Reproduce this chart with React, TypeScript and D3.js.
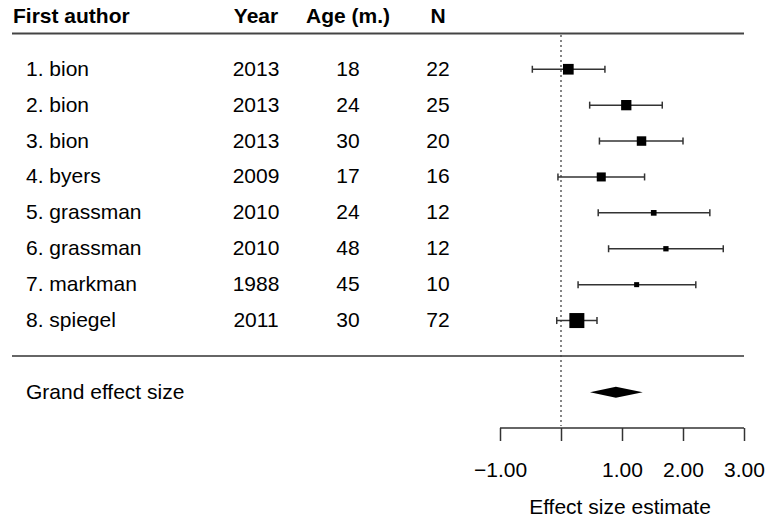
import React, { useEffect, useRef } from "react"
import * as d3 from "d3"

const authors = ["1. bion", "2. bion", "3. bion", "4. byers", "5. grassman", "6. grassman", "7. markman", "8. spiegel"]
const years = [2013, 2013, 2013, 2009, 2010, 2010, 1988, 2011]
const ages = [18, 24, 30, 17, 24, 48, 45, 30]
const ns = [22, 25, 20, 16, 12, 12, 10, 72]
const estimates = [0.12, 1.07, 1.32, 0.66, 1.52, 1.72, 1.24, 0.26]
const lower = [-0.47, 0.47, 0.63, -0.05, 0.61, 0.78, 0.28, -0.07]
const upper = [0.72, 1.66, 2.0, 1.37, 2.44, 2.66, 2.21, 0.59]
const weights = [16.3, 15.1, 12.8, 11.6, 4.6, 4.0, 3.6, 32.1]
// lower, estimate, upper
const grandEffect = [0.475, 0.9, 1.34]
const tickValues = [-1, 0, 1, 2, 3]
const headers = ["First author", "Year", "Age (m.)", "N"]

const FONT = "'Liberation Sans', Arial, Helvetica, sans-serif"
const FS = "21px"

export default function App() {
    const ref = useRef<SVGSVGElement>(null)

    useEffect(() => {
        const svg = d3.select(ref.current)
        svg.selectAll("*").remove()

        const x = d3.scaleLinear().domain([-1, 3]).range([500, 744])
        const y = d3.scaleBand<number>()
            .domain(d3.range(authors.length))
            .range([51.3, 338.5])
        const size = d3.scaleSqrt().domain([0, d3.max(weights)!]).range([0, 15])
        const rowY = (i: number) => y(i)! + y.bandwidth() / 2

        const colX = [26, 256, 348, 438]

        // header
        svg.append("g")
            .selectAll("text")
            .data(headers)
            .enter()
            .append("text")
            .attr("x", (d, i) => (i === 0 ? 13 : colX[i]))
            .attr("y", 23)
            .attr("text-anchor", (d, i) => (i === 0 ? "start" : "middle"))
            .style("font-family", FONT)
            .style("font-size", FS)
            .style("font-weight", "bold")
            .text(d => d)

        svg.append("line")
            .attr("x1", 12).attr("x2", 744)
            .attr("y1", 33.5).attr("y2", 33.5)
            .attr("stroke", "#444").attr("stroke-width", 2)
        svg.append("line")
            .attr("x1", 12).attr("x2", 744)
            .attr("y1", 356).attr("y2", 356)
            .attr("stroke", "#333").attr("stroke-width", 1.5)

        // zero line
        svg.append("line")
            .attr("x1", x(0)).attr("x2", x(0))
            .attr("y1", 35).attr("y2", 426)
            .attr("stroke", "#444").attr("stroke-width", 1.3)
            .attr("stroke-dasharray", "2,3")

        // table columns
        const cols = [authors, years, ages, ns]
        cols.forEach((col, c) => {
            svg.append("g")
                .selectAll("text")
                .data(col)
                .enter()
                .append("text")
                .attr("x", colX[c])
                .attr("y", (d, i) => rowY(i) + 6.5)
                .attr("text-anchor", c === 0 ? "start" : "middle")
                .style("font-family", FONT)
                .style("font-size", FS)
                .text(d => String(d))
        })

        // confidence intervals
        const rows = svg.append("g")
            .selectAll("g")
            .data(estimates)
            .enter()
            .append("g")
            .attr("transform", (d, i) => "translate(0," + rowY(i) + ")")
        rows.append("line")
            .attr("x1", (d, i) => x(lower[i]))
            .attr("x2", (d, i) => x(upper[i]))
            .attr("stroke", "#333").attr("stroke-width", 1.5)
        rows.append("line")
            .attr("x1", (d, i) => x(lower[i])).attr("x2", (d, i) => x(lower[i]))
            .attr("y1", -3.5).attr("y2", 3.5)
            .attr("stroke", "#333").attr("stroke-width", 1.5)
        rows.append("line")
            .attr("x1", (d, i) => x(upper[i])).attr("x2", (d, i) => x(upper[i]))
            .attr("y1", -3.5).attr("y2", 3.5)
            .attr("stroke", "#333").attr("stroke-width", 1.5)
        rows.append("rect")
            .attr("x", (d, i) => x(d) - size(weights[i]) / 2)
            .attr("y", (d, i) => -size(weights[i]) / 2)
            .attr("width", (d, i) => size(weights[i]))
            .attr("height", (d, i) => size(weights[i]))
            .attr("fill", "black")

        // grand effect
        const gy = 392.3
        svg.append("text")
            .attr("x", 26).attr("y", gy + 6.5)
            .style("font-family", FONT)
            .style("font-size", FS)
            .text("Grand effect size")
        svg.append("path")
            .attr("d", "M" + x(grandEffect[0]) + "," + gy +
                "L" + x(grandEffect[1]) + "," + (gy - 5.5) +
                "L" + x(grandEffect[2]) + "," + gy +
                "L" + x(grandEffect[1]) + "," + (gy + 5.5) + "Z")
            .attr("fill", "black")

        // axis
        const axis = d3.axisBottom(x)
            .tickValues(tickValues)
            .tickSize(13)
            .tickFormat(d => (d === 0 ? "" : d3.format(".2f")(d as number)))
        const ax = svg.append("g")
            .attr("transform", "translate(0,428)")
            .call(axis)
        ax.select(".domain")
            .attr("d", "M" + x(-1) + ",0H" + x(3))
            .attr("stroke", "#333").attr("stroke-width", 1.5)
        ax.selectAll(".tick line").attr("stroke", "#333").attr("stroke-width", 1.5)
        ax.selectAll(".tick text")
            .attr("y", 49).attr("dy", 0)
            .attr("fill", "black")
            .style("font-family", FONT)
            .style("font-size", FS)

        svg.append("text")
            .attr("x", 620).attr("y", 514)
            .attr("text-anchor", "middle")
            .style("font-family", FONT)
            .style("font-size", FS)
            .text("Effect size estimate")
    }, [])

    return (
        <svg ref={ref} width={768} height={518}
            style={{ position: "absolute", left: 0, top: 0, background: "white" }} />
    )
}
